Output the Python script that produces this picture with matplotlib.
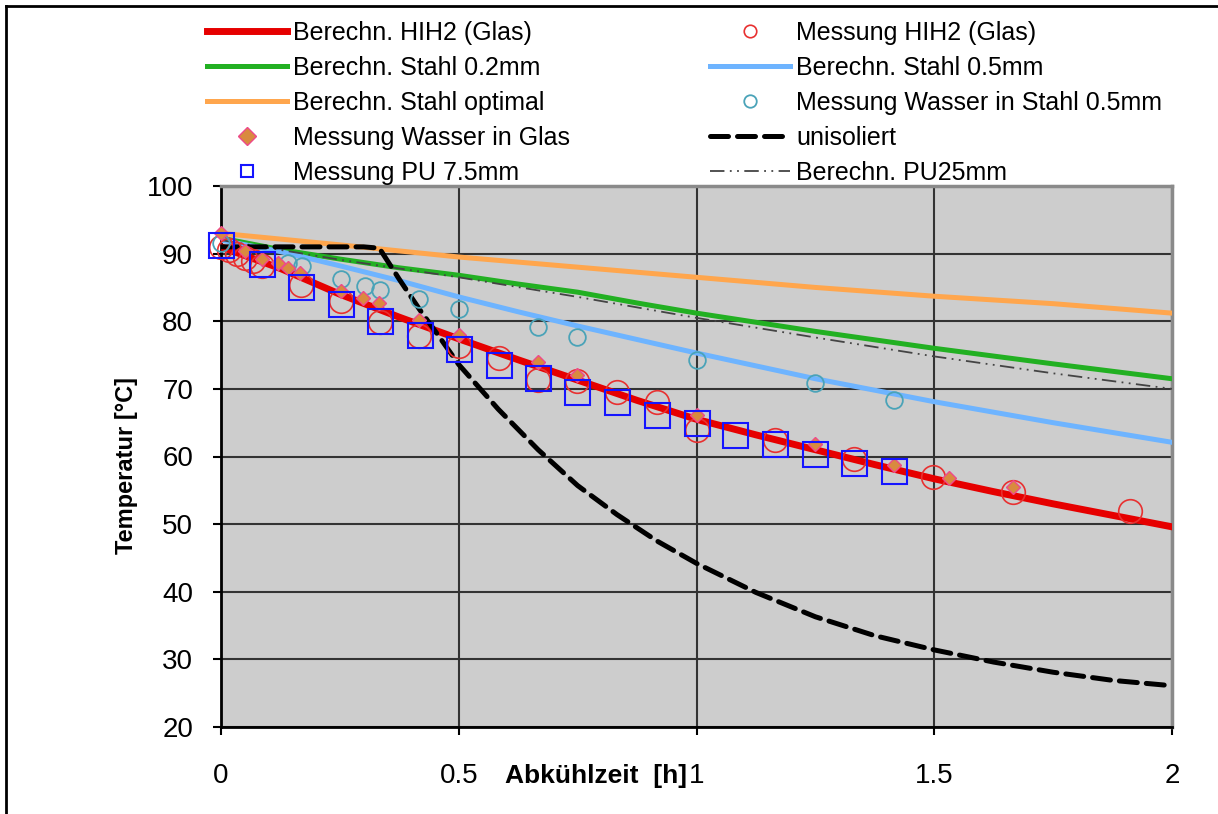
import matplotlib
matplotlib.use('Agg')
import matplotlib.pyplot as plt
from matplotlib.lines import Line2D

plt.rcParams['font.family'] = ['Liberation Sans', 'DejaVu Sans']

# Berechnungen (Kurven)
x_hih2 = [0, 0.125, 0.25, 0.375, 0.5, 0.625, 0.75, 0.875, 1.0, 1.125, 1.25, 1.375, 1.5, 1.625, 1.75, 1.875, 2.0]
t_hih2 = [91.0, 87.8, 84.0, 80.6, 77.4, 74.3, 71.3, 68.3, 65.5, 63.2, 61.0, 58.8, 56.7, 54.8, 53.0, 51.3, 49.6]

x_st02 = [0, 0.125, 0.25, 0.375, 0.5, 0.625, 0.75, 0.875, 1.0, 1.25, 1.5, 1.75, 2.0]
t_st02 = [92.3, 90.6, 89.2, 87.9, 86.8, 85.5, 84.3, 82.7, 81.2, 78.5, 76.0, 73.7, 71.5]

x_st05 = [0, 0.125, 0.25, 0.375, 0.5, 0.625, 0.75, 0.875, 1.0, 1.25, 1.5, 1.75, 2.0]
t_st05 = [92.0, 90.3, 88.2, 86.0, 83.6, 81.4, 79.3, 77.3, 75.3, 71.5, 68.1, 65.0, 62.1]

x_opt = [0, 0.25, 0.5, 0.75, 1.0, 1.25, 1.5, 1.75, 2.0]
t_opt = [93.0, 91.3, 89.5, 88.0, 86.5, 85.0, 83.7, 82.6, 81.2]

x_pu25 = [0, 0.25, 0.5, 0.75, 1.0, 1.25, 1.5, 1.75, 2.0]
t_pu25 = [92.0, 89.1, 86.5, 83.6, 80.5, 77.6, 74.8, 72.3, 70.0]

x_uniso = [0, 0.1, 0.2, 0.3, 0.333, 0.375, 0.417, 0.458, 0.5, 0.583, 0.667, 0.75, 0.833,
           0.917, 1.0, 1.125, 1.25, 1.375, 1.5, 1.625, 1.75, 1.875, 2.0]
t_uniso = [91.0, 91.0, 91.0, 91.0, 90.8, 86.2, 81.8, 77.8, 73.6, 67.0, 61.0, 55.7, 51.4,
           47.5, 44.2, 39.9, 36.3, 33.5, 31.4, 29.6, 28.1, 26.9, 26.1]

# Messungen
x_m_hih2 = [0.0, 0.017, 0.033, 0.05, 0.067, 0.086, 0.168, 0.252, 0.334, 0.417, 0.5, 0.585, 0.667,
            0.749, 0.833, 0.917, 1.0, 1.165, 1.331, 1.497, 1.666, 1.912]
t_m_hih2 = [91.0, 90.5, 89.9, 89.4, 88.9, 88.2, 85.4, 83.0, 79.9, 77.8, 76.3, 74.5, 71.3,
            71.1, 69.6, 68.1, 63.9, 62.4, 59.6, 57.0, 54.8, 52.0]

x_m_stahl = [0.0, 0.14, 0.17, 0.252, 0.303, 0.334, 0.417, 0.5, 0.667, 0.749, 1.0, 1.249, 1.415]
t_m_stahl = [91.5, 88.6, 88.1, 86.3, 85.2, 84.6, 83.3, 81.8, 79.1, 77.7, 74.3, 70.9, 68.4]

x_m_glas = [0.0, 0.05, 0.086, 0.12, 0.141, 0.166, 0.252, 0.299, 0.333, 0.417, 0.5, 0.667, 0.749,
            1.0, 1.249, 1.415, 1.532, 1.665]
t_m_glas = [93.0, 90.4, 89.2, 88.6, 87.9, 87.1, 84.5, 83.4, 82.7, 80.2, 78.0, 74.0, 72.1,
            66.1, 61.8, 58.7, 56.8, 55.5]

x_m_pu = [0.0, 0.086, 0.168, 0.252, 0.334, 0.418, 0.5, 0.585, 0.667, 0.749, 0.833, 0.917, 1.0,
          1.082, 1.165, 1.249, 1.331, 1.415]
t_m_pu = [91.3, 88.5, 85.1, 82.5, 80.1, 77.9, 75.9, 73.6, 71.6, 69.6, 68.0, 66.1, 65.0,
          63.2, 61.8, 60.4, 59.0, 57.8]

W, H = 1218, 814
fig = plt.figure(figsize=(W / 100, H / 100), dpi=100)
ax = fig.add_axes([221 / W, 1 - 727 / H, (1172 - 221) / W, (727 - 186) / H])
ax.set_facecolor('#cdcdcd')

# Kurven
l_hih2, = ax.plot(x_hih2, t_hih2, color='#e60000', lw=5, zorder=4)
l_st02, = ax.plot(x_st02, t_st02, color='#22b022', lw=3.6, zorder=3)
l_st05, = ax.plot(x_st05, t_st05, color='#6eb4ff', lw=3.6, zorder=3)
l_opt, = ax.plot(x_opt, t_opt, color='#ffa64d', lw=3.6, zorder=3)
l_pu25, = ax.plot(x_pu25, t_pu25, color='#444444', lw=1.3, dashes=(8, 3, 1, 3, 1, 3), zorder=3)
l_uniso, = ax.plot(x_uniso, t_uniso, color='black', lw=3.6, dashes=(3.6, 1.8),
                   dash_capstyle='round', zorder=5)

# Messungen
m_hih2, = ax.plot(x_m_hih2, t_m_hih2, ls='none', marker='o', ms=17, mfc='none', mec='#e83030',
                  mew=1.2, zorder=6, clip_on=False)
m_stahl, = ax.plot(x_m_stahl, t_m_stahl, ls='none', marker='o', ms=12, mfc='none', mec='#4aa3b8',
                   mew=1.3, zorder=6, clip_on=False)
m_glas, = ax.plot(x_m_glas, t_m_glas, ls='none', marker='D', ms=7, mfc='#d98a3f', mec='#ee4a8a',
                  mew=1.0, zorder=7, clip_on=False)
m_pu, = ax.plot(x_m_pu, t_m_pu, ls='none', marker='s', ms=18, mfc='none', mec='#1515ff',
                mew=1.5, zorder=8, clip_on=False)

ax.set_xlim(0, 2)
ax.set_ylim(20, 100)
ax.set_xticks([0, 0.5, 1, 1.5, 2])
ax.set_xticklabels(['0', '0.5', '1', '1.5', '2'])
ax.set_yticks(range(20, 101, 10))
ax.grid(color='#333333', lw=1.5, zorder=1)
ax.set_axisbelow(True)
ax.tick_params(direction='out', length=6, width=1.5, labelsize=20, color='black')
ax.tick_params(axis='x', pad=20)
ax.tick_params(axis='y', pad=14)
for s in ['left', 'bottom']:
    ax.spines[s].set_color('black')
    ax.spines[s].set_linewidth(2)
for s in ['top', 'right']:
    ax.spines[s].set_color('#8a8a8a')
    ax.spines[s].set_linewidth(2.5)

fig.text(127 / W, 1 - 466 / H, 'Temperatur [°C]', rotation=90, ha='center', va='center',
         fontsize=17, fontweight='bold')
fig.text(596 / W, 1 - 776 / H, 'Abkühlzeit  [h]', ha='center', va='center',
         fontsize=19, fontweight='bold')

# Legende (zwei Spalten)
leg_kw = dict(loc='upper left', frameon=False, fontsize=18, handlelength=3.2,
              handletextpad=0.25, labelspacing=0.44, borderpad=0, borderaxespad=0, numpoints=1)
leg1 = fig.legend([l_hih2, l_st02, l_opt, m_glas, m_pu],
                  ['Berechn. HIH2 (Glas)', 'Berechn. Stahl 0.2mm', 'Berechn. Stahl optimal',
                   'Messung Wasser in Glas', 'Messung PU 7.5mm'],
                  bbox_to_anchor=(207 / W, 1 - 21 / H), **leg_kw)
leg2 = fig.legend([m_hih2, l_st05, m_stahl, l_uniso, l_pu25],
                  ['Messung HIH2 (Glas)', 'Berechn. Stahl 0.5mm', 'Messung Wasser in Stahl 0.5mm',
                   'unisoliert', 'Berechn. PU25mm'],
                  bbox_to_anchor=(710 / W, 1 - 21 / H), **leg_kw)
for leg in (leg1, leg2):
    for h in leg.legend_handles:
        if h.get_marker() not in (None, 'None', ''):
            h.set_markersize(9)

# Rahmen
fig.add_artist(Line2D([6 / W, 6 / W], [0, 1 - 6 / H], color='black', lw=2))
fig.add_artist(Line2D([6 / W, 1], [1 - 6 / H, 1 - 6 / H], color='black', lw=2))

fig.savefig('out.png', dpi=100)
